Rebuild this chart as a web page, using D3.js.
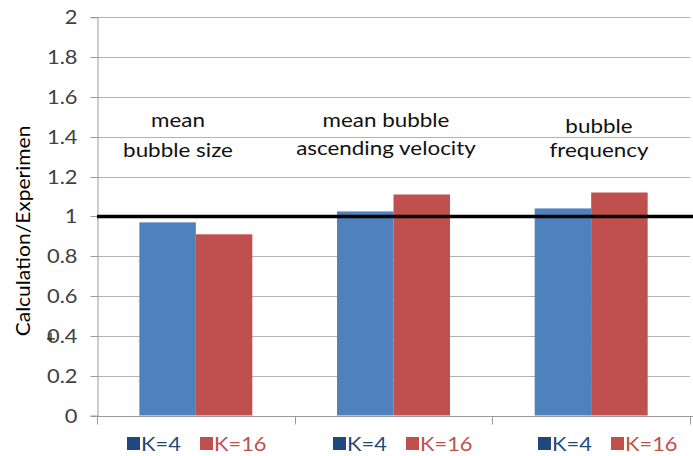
<!DOCTYPE html>
<html><head><meta charset="utf-8">
<script src="https://cdn.jsdelivr.net/npm/d3@7"></script>
<style>
html,body{margin:0;padding:0;background:#fff;}
svg{display:block;font-family:Lato,"Open Sans",sans-serif;}
</style></head>
<body><svg id="c" width="693" height="456"></svg>
<script>
// ---- data ----
const categories = ["mean bubble size", "mean bubble ascending velocity", "bubble frequency"];
const annotationLines = [["mean", "bubble size"], ["mean bubble", "ascending velocity"], ["bubble", "frequency"]];
const seriesNames = ["K=4", "K=16"];
const k4Values = [0.97, 1.025, 1.04];
const k16Values = [0.91, 1.11, 1.12];
const yTicks = [0, 0.2, 0.4, 0.6, 0.8, 1, 1.2, 1.4, 1.6, 1.8, 2];
const referenceValue = 1;
const yTitle = "Calculation/Experimen";

// ---- layout ----
const W = 693, H = 456;
const pLeft = 97, pRight = 690, pTop = 17.3, pBottom = 415.5;
const colors = ["#4f81bd", "#c0504d"];
const legendColors = ["#1f497d", "#c0504d"];
const SX = 1.12; // horizontal text stretch of the reference
const svg = d3.select("#c");

function stretch(sel, f) {
  sel.each(function () {
    const w = this.getComputedTextLength();
    d3.select(this).attr("textLength", w * (f || SX)).attr("lengthAdjust", "spacingAndGlyphs");
  });
}

const y = d3.scaleLinear().domain([0, 2]).range([pBottom, pTop]);
const x0 = d3.scaleBand().domain(categories).range([pLeft, pRight]).paddingInner(0).paddingOuter(0);
const gap = 0.75; // excel gap width
const groupW = x0.bandwidth() / (1 + gap);
const x1 = d3.scaleBand().domain(seriesNames).range([0, groupW]);

// gridlines
svg.append("g").selectAll("line").data(yTicks.filter(d => d > 0)).join("line")
  .attr("x1", pLeft).attr("x2", pRight)
  .attr("y1", d => Math.round(y(d)) + 0.5).attr("y2", d => Math.round(y(d)) + 0.5)
  .attr("stroke", "#b3b3b3").attr("stroke-width", 1);

// y axis
const yAxis = svg.append("g").attr("transform", `translate(${pLeft + 0.5},0)`)
  .call(d3.axisLeft(y).tickValues(yTicks).tickSize(7).tickPadding(13).tickFormat(d3.format("~g")));
yAxis.select(".domain").attr("stroke", "#9a9a9a");
yAxis.selectAll(".tick line").attr("stroke", "#9a9a9a");
yAxis.selectAll(".tick").attr("transform", d => `translate(0,${Math.round(y(d)) + 0.5})`);
yAxis.selectAll("text").attr("fill", "#404040").attr("font-size", 19).attr("font-family", "Lato").attr("dy", "0.35em");
stretch(yAxis.selectAll("text"), 1.15);

// bars
const groups = svg.append("g").selectAll("g").data(categories).join("g")
  .attr("transform", c => `translate(${x0(c) + (x0.bandwidth() - groupW) / 2},0)`);
groups.selectAll("rect").data((c, i) => [{ s: seriesNames[0], v: k4Values[i] }, { s: seriesNames[1], v: k16Values[i] }])
  .join("rect")
  .attr("x", d => x1(d.s)).attr("width", x1.bandwidth())
  .attr("y", d => y(d.v)).attr("height", d => y(0) - y(d.v))
  .attr("fill", (d, j) => colors[j]);

// x axis
const xAxis = svg.append("g").attr("transform", `translate(0,${Math.round(pBottom) + 0.5})`);
xAxis.append("line").attr("x1", pLeft).attr("x2", pRight + 3).attr("stroke", "#9a9a9a");
xAxis.selectAll("line.t").data(d3.range(categories.length + 1)).join("line").attr("class", "t")
  .attr("x1", i => Math.round(pLeft + i * x0.bandwidth()) + 0.5).attr("x2", i => Math.round(pLeft + i * x0.bandwidth()) + 0.5)
  .attr("y1", 0).attr("y2", 8).attr("stroke", "#9a9a9a");

// reference line at 1
svg.append("line").attr("x1", pLeft).attr("x2", W)
  .attr("y1", y(referenceValue)).attr("y2", y(referenceValue))
  .attr("stroke", "#000").attr("stroke-width", 3.5);

// annotations
const annCx = [178, 386, 599];
const annBase = [[127, 157], [127, 155], [133, 157]];
annotationLines.forEach((lines, i) => {
  lines.forEach((t, j) => {
    const tx = svg.append("text").attr("x", annCx[i]).attr("y", annBase[i][j])
      .attr("text-anchor", "middle").attr("font-size", 20).attr("font-family", "Lato").attr("fill", "#111").text(t);
    stretch(tx);
  });
});

// y title
const yt = svg.append("text").attr("transform", "translate(30,231) rotate(-90)")
  .attr("text-anchor", "middle").attr("font-size", 20).attr("font-family", "Lato").attr("fill", "#000").text(yTitle);
stretch(yt, 1.05);

// stray cursor mark near 0.4
svg.append("path").attr("d", `M47,${y(0.4) + 3}H55M51,${y(0.4) - 3}V${y(0.4) + 5}`)
  .attr("stroke", "#222").attr("stroke-width", 1.3).attr("fill", "none");

// legends under each category
const legendX = [127, 333, 538];
legendX.forEach(lx => {
  const g = svg.append("g").attr("transform", `translate(${lx},0)`);
  const offs = [0, 73];
  seriesNames.forEach((s, j) => {
    g.append("rect").attr("x", offs[j]).attr("y", 437).attr("width", 13).attr("height", 13).attr("fill", legendColors[j]);
    const t = g.append("text").attr("x", offs[j] + 14).attr("y", 450.5).attr("font-size", 19.5).attr("font-family", "Lato")
      .attr("fill", legendColors[j]).text(s);
    stretch(t, 1.12);
  });
});
</script>
</body></html>
